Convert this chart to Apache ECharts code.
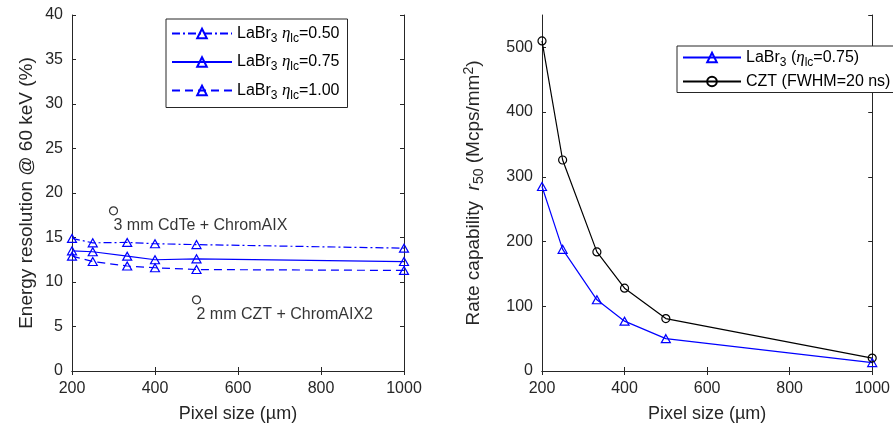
<!DOCTYPE html>
<html>
<head>
<meta charset="utf-8">
<script src="https://cdn.jsdelivr.net/npm/echarts@6/dist/echarts.min.js"></script>
<style>
html,body{margin:0;padding:0;background:#fff;}
#c{width:893px;height:429px;}
</style>
</head>
<body>
<div id="c"></div>
<script>
// ---- data ----
var pixelSizes = [200, 250, 333, 400, 500, 1000];
var resEta050 = [14.9, 14.4, 14.45, 14.3, 14.2, 13.8];
var resEta075 = [13.5, 13.4, 12.9, 12.5, 12.6, 12.3];
var resEta100 = [12.9, 12.3, 11.8, 11.6, 11.4, 11.3];
var annotX = [300, 500];
var annotY = [18, 8];
var annotText = ['3 mm CdTe + ChromAIX', '2 mm CZT + ChromAIX2'];
var rateLaBr = [285, 188, 110, 77, 50, 13];
var rateCZT = [510, 326, 184, 128, 81, 20];
var xTicks = [200, 400, 600, 800, 1000];
var leftYTicks = [0, 5, 10, 15, 20, 25, 30, 35, 40];
var rightYTicks = [0, 100, 200, 300, 400, 500];

function pairs(xs, ys) { return xs.map(function (x, i) { return [x, ys[i]]; }); }

var FONT = '"Liberation Sans", Arial, Helvetica, sans-serif';
var AX = '#262626';
var BLUE = '#0000ff';

var rich = {
  n: { fontFamily: FONT, fontSize: 16, color: '#000' },
  i: { fontFamily: '"Liberation Serif", serif', fontStyle: 'italic', fontSize: 17, color: '#000' },
  s: { fontFamily: FONT, fontSize: 12, color: '#000', padding: [10, 0, 0, 0] },
  p: { fontFamily: FONT, fontSize: 12, color: '#000', padding: [0, 0, 10, 0] }
};
var axRich = {
  n: { fontFamily: FONT, fontSize: 19, color: AX },
  i: { fontFamily: FONT, fontStyle: 'italic', fontSize: 19, color: AX },
  s: { fontFamily: FONT, fontSize: 14, color: AX, padding: [10, 0, 0, 0] },
  p: { fontFamily: FONT, fontSize: 14, color: AX, padding: [0, 0, 10, 0] }
};

var legendNames = {
  L050: '{n|LaBr}{s|3}{n| }{i|η}{s|lc}{n|=0.50}',
  L075: '{n|LaBr}{s|3}{n| }{i|η}{s|lc}{n|=0.75}',
  L100: '{n|LaBr}{s|3}{n| }{i|η}{s|lc}{n|=1.00}',
  RL: '{n|LaBr}{s|3}{n| (}{i|η}{s|lc}{n|=0.75)}',
  RC: '{n|CZT (FWHM=20 ns)}'
};

function mkX(gridIndex, pos, labels, name) {
  return {
    type: 'value', gridIndex: gridIndex, position: pos, min: 200, max: 1000, interval: 200,
    axisLine: { show: true, lineStyle: { color: AX, width: 1 } },
    axisTick: { show: true, inside: true, length: 4, lineStyle: { color: AX } },
    axisLabel: { show: labels, color: AX, fontFamily: FONT, fontSize: 16, margin: 10,
      formatter: function (v) { return String(v); } },
    splitLine: { show: false },
    name: name || '', nameLocation: 'middle', nameGap: 34,
    nameTextStyle: { color: AX, fontFamily: FONT, fontSize: 18 }
  };
}
function mkY(gridIndex, pos, labels, max, interval, name, nameGap) {
  return {
    type: 'value', gridIndex: gridIndex, position: pos, min: 0, max: max, interval: interval,
    axisLine: { show: true, lineStyle: { color: AX, width: 1 } },
    axisTick: { show: true, inside: true, length: 4, lineStyle: { color: AX } },
    axisLabel: { show: labels, color: AX, fontFamily: FONT, fontSize: 16, margin: 9, showMaxLabel: max === 40,
      formatter: function (v) { return String(v); } },
    splitLine: { show: false },
    name: name || '', nameLocation: 'middle', nameGap: nameGap || 30,
    nameTextStyle: { color: AX, fontFamily: FONT, fontSize: 19, rich: axRich }
  };
}

function triSeries(name, data, dash) {
  return {
    name: name, type: 'line', xAxisIndex: 0, yAxisIndex: 0, data: pairs(pixelSizes, data),
    symbol: 'triangle', symbolSize: [9, 8],
    itemStyle: { color: 'rgba(255,255,255,0)', borderColor: BLUE, borderWidth: 1.2 },
    lineStyle: { color: BLUE, width: 1.2, type: dash },
    emphasis: { disabled: true }, animation: false
  };
}

var chart = echarts.init(document.getElementById('c'), null, { renderer: 'canvas' });
chart.setOption({
  animation: false,
  grid: [
    { left: 72, right: 489, top: 15, bottom: 58, containLabel: false },
    { left: 542, right: 18, top: 15, bottom: 58, containLabel: false }
  ],
  xAxis: [
    mkX(0, 'bottom', true, 'Pixel size (µm)'),
    mkX(0, 'top', false),
    mkX(1, 'bottom', true, 'Pixel size (µm)'),
    mkX(1, 'top', false)
  ],
  yAxis: [
    mkY(0, 'left', true, 40, 5, '{n|Energy resolution @ 60 keV (%)}', 36),
    mkY(0, 'right', false, 40, 5),
    mkY(1, 'left', true, 550, 100, '{n|Rate capability  }{i|r}{s|50}{n| (Mcps/mm}{p|2}{n|)}', 56),
    mkY(1, 'right', false, 550, 100)
  ],
  legend: [
    {
      data: ['L050', 'L075', 'L100'], orient: 'vertical', left: 166, top: 19,
      itemWidth: 60, itemHeight: 12, itemGap: 9,
      padding: [6, 8, 6, 5],
      backgroundColor: '#fff', borderColor: AX, borderWidth: 1, borderRadius: 0,
      formatter: function (n) { return legendNames[n]; },
      textStyle: { fontFamily: FONT, fontSize: 16, color: '#000', rich: rich },
      selectedMode: false
    },
    {
      data: ['RL', 'RC'], orient: 'vertical', left: 677, top: 46,
      itemWidth: 58, itemHeight: 12, itemGap: 5,
      padding: [3, 8, 3, 5],
      backgroundColor: '#fff', borderColor: AX, borderWidth: 1, borderRadius: 0,
      formatter: function (n) { return legendNames[n]; },
      textStyle: { fontFamily: FONT, fontSize: 16, color: '#000', rich: rich },
      selectedMode: false
    }
  ],
  series: [
    triSeries('L050', resEta050, [8, 3, 2, 3]),
    triSeries('L075', resEta075, 'solid'),
    triSeries('L100', resEta100, [8, 5]),
    {
      name: 'annot', type: 'scatter', xAxisIndex: 0, yAxisIndex: 0,
      data: annotX.map(function (x, i) { return { value: [x, annotY[i]], name: annotText[i] }; }),
      symbol: 'circle', symbolSize: 8,
      itemStyle: { color: 'rgba(255,255,255,0)', borderColor: '#000', borderWidth: 1.2 },
      label: {
        show: true, position: 'bottom', align: 'left', distance: 2,
        formatter: function (p) { return p.name; },
        fontFamily: FONT, fontSize: 16, color: '#000'
      },
      emphasis: { disabled: true }
    },
    {
      name: 'RL', type: 'line', xAxisIndex: 2, yAxisIndex: 2, data: pairs(pixelSizes, rateLaBr),
      symbol: 'triangle', symbolSize: [9, 8],
      itemStyle: { color: 'rgba(255,255,255,0)', borderColor: BLUE, borderWidth: 1.2 },
      lineStyle: { color: BLUE, width: 1.2 }, emphasis: { disabled: true }
    },
    {
      name: 'RC', type: 'line', xAxisIndex: 2, yAxisIndex: 2, data: pairs(pixelSizes, rateCZT),
      symbol: 'circle', symbolSize: 8,
      itemStyle: { color: 'rgba(255,255,255,0)', borderColor: '#000', borderWidth: 1.2 },
      lineStyle: { color: '#000', width: 1.2 }, emphasis: { disabled: true }
    }
  ]
});
</script>
</body>
</html>
